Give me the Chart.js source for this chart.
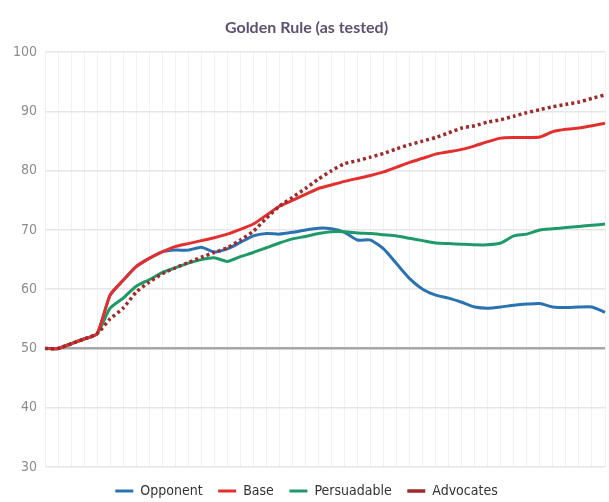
<!DOCTYPE html>
<html>
<head>
<meta charset="utf-8">
<script src="https://cdn.jsdelivr.net/npm/chart.js@4.4.1/dist/chart.umd.min.js"></script>
<style>
  html, body { margin: 0; padding: 0; background: #fff; }
  #wrap { width: 609px; height: 502px; }
</style>
</head>
<body>
<div id="wrap"><canvas id="goldenRule"></canvas></div>
<script>
// 44 time points (no x labels shown)
const periods = Array.from({ length: 44 }, (_, i) => 'P' + (i + 1));

const opponent = [50, 50, 50.8, 51.6, 52.5, 59, 61.5, 63.8, 65.2, 66.3, 66.6, 66.6, 67.1, 66.3, 66.8, 67.9,
  69.0, 69.4, 69.3, 69.6, 70.0, 70.3, 70.2, 69.6, 68.3, 68.3, 66.8, 64.3, 61.8, 60.0, 59.0, 58.5,
  57.8, 57.0, 56.8, 57.0, 57.3, 57.5, 57.6, 57.0, 56.9, 57.0, 57.0, 56.1];
const base = [50, 50, 50.8, 51.6, 52.5, 59, 61.5, 63.8, 65.2, 66.3, 67.2, 67.7, 68.2, 68.7, 69.3, 70.1,
  71.0, 72.5, 74.0, 75.0, 76.0, 77.0, 77.6, 78.2, 78.7, 79.2, 79.8, 80.6, 81.4, 82.1, 82.8, 83.2,
  83.6, 84.2, 84.9, 85.5, 85.6, 85.6, 85.7, 86.6, 87.0, 87.2, 87.6, 88.0];
const persuadable = [50, 50, 50.8, 51.6, 52.5, 56.8, 58.5, 60.5, 61.6, 62.8, 63.6, 64.4, 65.0, 65.3, 64.7, 65.5,
  66.2, 67.0, 67.8, 68.5, 68.9, 69.4, 69.7, 69.7, 69.5, 69.4, 69.2, 69.0, 68.6, 68.2, 67.8, 67.7,
  67.6, 67.5, 67.5, 67.8, 69.0, 69.3, 70.0, 70.2, 70.4, 70.6, 70.8, 71.0];
const advocates = [50, 50, 50.8, 51.6, 52.5, 55.0, 56.8, 59.5, 61.2, 62.6, 63.6, 64.5, 65.4, 66.2, 67.0, 68.3,
  69.8, 72.0, 74.0, 75.5, 77.0, 78.6, 80.0, 81.2, 81.7, 82.3, 82.9, 83.7, 84.4, 85.0, 85.6, 86.4,
  87.2, 87.6, 88.2, 88.6, 89.2, 89.8, 90.3, 90.8, 91.2, 91.6, 92.2, 92.8];

const yTicks = [30, 40, 50, 60, 70, 80, 90, 100];

const narrow = "'Liberation Sans Narrow', 'DejaVu Sans Condensed', 'DejaVu Sans', sans-serif";

// default legend items, with some trailing space so the gap between items is wider
function legendItems(chart) {
  const items = Chart.defaults.plugins.legend.labels.generateLabels(chart);
  items.sort((a, b) => a.datasetIndex - b.datasetIndex);
  items.forEach((it, i) => {
    if (i < items.length - 1) it.text = it.text + '\u2002\u2002';
  });
  return items;
}

const ctx = document.getElementById('goldenRule').getContext('2d');
new Chart(ctx, {
  type: 'line',
  data: {
    labels: periods,
    datasets: [
      { label: 'Opponent', data: opponent, borderColor: '#2b72b0', backgroundColor: '#2b72b0', borderWidth: 3, order: 4 },
      { label: 'Base', data: base, borderColor: '#e3302f', backgroundColor: '#e3302f', borderWidth: 3, order: 2 },
      { label: 'Persuadable', data: persuadable, borderColor: '#1e9a68', backgroundColor: '#1e9a68', borderWidth: 3, order: 3 },
      { label: 'Advocates', data: advocates, borderColor: '#9e2a2b', backgroundColor: '#9e2a2b', borderWidth: 3.5, borderDash: [3, 3], order: 1 }
    ]
  },
  options: {
    responsive: true,
    maintainAspectRatio: false,
    animation: false,
    elements: {
      point: { radius: 0 },
      line: { tension: 0.2, borderCapStyle: 'butt' }
    },
    layout: { padding: { left: 8, right: 4, top: 0, bottom: 0 } },
    plugins: {
      title: {
        display: true,
        text: 'Golden Rule (as tested)',
        color: '#5b5271',
        font: { family: "Lato, 'Open Sans', sans-serif", size: 16, weight: 'bold' },
        padding: { top: 18, bottom: 15 }
      },
      legend: {
        position: 'bottom',
        maxHeight: 21,
        labels: {
          usePointStyle: true,
          pointStyle: 'line',
          pointStyleWidth: 18,
          boxWidth: 18,
          boxHeight: 10,
          padding: 3,
          color: '#333',
          font: { family: narrow, size: 14 },
          generateLabels: legendItems
        }
      },
      tooltip: { enabled: false }
    },
    scales: {
      x: {
        ticks: { display: false },
        border: { display: false },
        grid: { color: '#f1f1f1', drawTicks: false },
        afterFit: (scale) => { scale.height = 14; }
      },
      y: {
        min: 30,
        max: 100,
        afterBuildTicks: (scale) => { scale.ticks = yTicks.map(v => ({ value: v })); },
        afterFit: (scale) => { scale.width = 37; },
        border: { display: false },
        ticks: {
          color: '#8c8c8c',
          padding: 8,
          font: { family: narrow, size: 14 }
        },
        grid: {
          drawTicks: false,
          color: (c) => c.tick && c.tick.value === 50 ? '#a6a6a6' : '#e6e6e6',
          lineWidth: (c) => c.tick && c.tick.value === 50 ? 2.5 : 1.5
        }
      }
    }
  }
});
</script>
</body>
</html>
